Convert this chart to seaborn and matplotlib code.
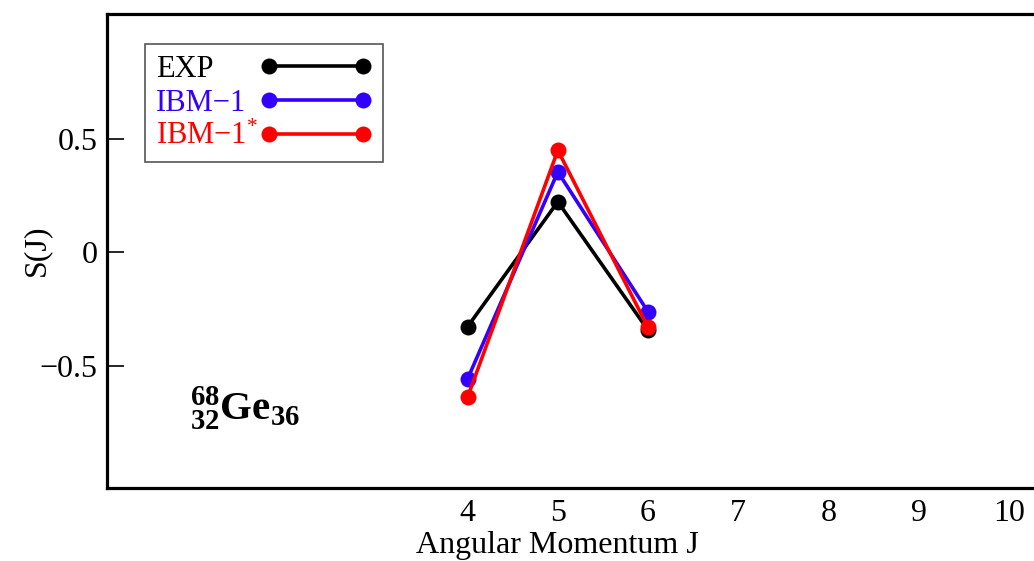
import matplotlib
matplotlib.use("Agg")
import matplotlib.pyplot as plt
import seaborn as sns
import pandas as pd

# ---- data ----
J = [4, 5, 6]
exp_vals = [-0.328, 0.222, -0.344]
ibm1_vals = [-0.558, 0.354, -0.263]
ibm1s_vals = [-0.638, 0.449, -0.332]
series_names = ["EXP", "IBM\u22121", "IBM\u22121$^{*}$"]
series_colors = ["#000000", "#3300FF", "#FF0000"]
xticks = [4, 5, 6, 7, 8, 9, 10]
yticks = [-0.5, 0, 0.5]
ytick_labels = ["\u22120.5", "0", "0.5"]

sns.set_style("white")
plt.rcParams["font.family"] = ["Liberation Serif", "DejaVu Serif"]
plt.rcParams["mathtext.fontset"] = "custom"
plt.rcParams["mathtext.rm"] = "Liberation Serif"
plt.rcParams["mathtext.it"] = "Liberation Serif:italic"
plt.rcParams["mathtext.bf"] = "Liberation Serif:bold"
for k in ["text.color", "axes.labelcolor", "xtick.color", "ytick.color"]:
    plt.rcParams[k] = "black"

W, H = 1034, 561
fig = plt.figure(figsize=(W / 100, H / 100), dpi=100)
px = 90.17
left, right = 107, 107 + 11 * px
top, bottom = 14, 488
ax = fig.add_axes([left / W, 1 - bottom / H, (right - left) / W, (bottom - top) / H])

df = pd.DataFrame({
    "J": J * 3,
    "S": exp_vals + ibm1_vals + ibm1s_vals,
    "model": [series_names[0]] * 3 + [series_names[1]] * 3 + [series_names[2]] * 3,
})

for name, col in zip(series_names, series_colors):
    sub = df[df["model"] == name]
    sns.lineplot(data=sub, x="J", y="S", color=col, marker="o", markersize=11.5,
                 markeredgewidth=0, linewidth=2.6, ax=ax, legend=False)

ax.set_xlim(0, 11)
ax.set_ylim(-1.04, 1.05)
ax.set_xticks(xticks)
ax.set_xticklabels([str(t) for t in xticks])
ax.set_yticks(yticks)
ax.set_yticklabels(ytick_labels)
ax.tick_params(axis="y", direction="in", length=12, width=1.2, pad=7, labelsize=23, left=True)
ax.tick_params(axis="x", direction="in", length=0, pad=8, labelsize=23, bottom=True)
for s in ["left", "bottom", "top"]:
    ax.spines[s].set_linewidth(2.3)
    ax.spines[s].set_color("black")
ax.spines["right"].set_visible(False)

ax.set_xlabel("Angular Momentum J", fontsize=23)
ax.xaxis.set_label_coords((557 - left) / (right - left), (bottom - 531) / (bottom - top))
ax.set_ylabel("S(J)", fontsize=23)
ax.yaxis.set_label_coords((51 - left) / (right - left), (bottom - 250) / (bottom - top))

handles = ax.get_lines()[:3]
leg = ax.legend(handles, series_names, loc="upper left",
                bbox_to_anchor=(145 / W, 1 - 44 / H), bbox_transform=fig.transFigure,
                numpoints=2, markerfirst=False, handlelength=3.67, handletextpad=0.0,
                fontsize=22, frameon=True, fancybox=False, framealpha=1,
                edgecolor="#555555", borderpad=0.36, labelspacing=0.15,
                borderaxespad=0)
leg.get_frame().set_linewidth(1.2)
for txt, col in zip(leg.get_texts(), series_colors):
    txt.set_color(col)
# left-align text, right-align handles within each legend row
for column in leg._legend_handle_box.get_children():
    for row in column.get_children():
        row.mode = "expand"
        row.width = 216

fig.text(190 / W, 1 - 421 / H, r"$\mathbf{{}^{68}_{32}Ge_{36}}$", fontsize=29.5,
         ha="left", va="baseline")

fig.savefig("out.png", dpi=100)
